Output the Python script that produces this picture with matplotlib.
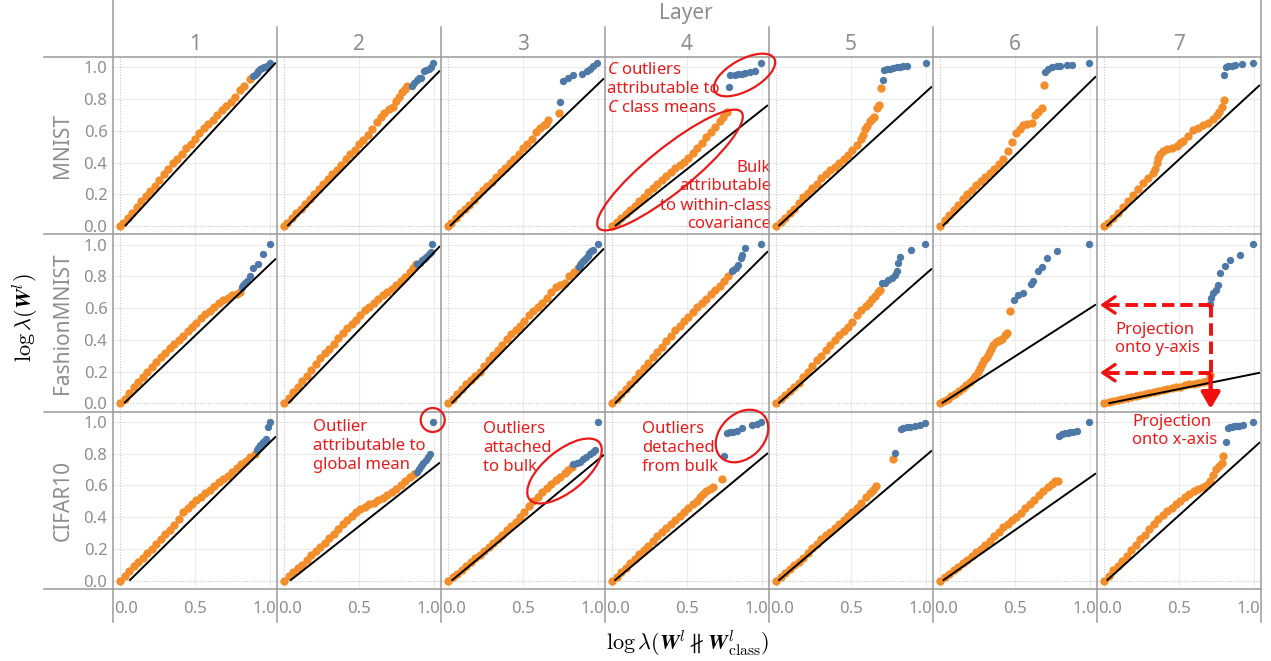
import matplotlib.pyplot as plt
from matplotlib.lines import Line2D
from matplotlib.patches import Ellipse, Circle, FancyArrowPatch
from matplotlib.transforms import Affine2D

plt.rcParams['font.family'] = ['Noto Sans', 'DejaVu Sans']
# sans italic for the inline "C"; the axis titles switch to Computer Modern
plt.rcParams['mathtext.fontset'] = 'custom'
plt.rcParams['mathtext.it'] = 'Noto Sans:italic'
plt.rcParams['mathtext.rm'] = 'Noto Sans'

datasets = ['MNIST', 'FashionMNIST', 'CIFAR10']
layers = ['1', '2', '3', '4', '5', '6', '7']

# bulk eigenvalues (orange), one list per layer
mnist_bulk_x = [
    [0, .02, .05, .08, .11, .14, .17, .20, .23, .26, .29, .32, .35, .38, .41, .44, .47, .50, .53, .56, .59, .62, .65, .68, .71, .74, .77, .80, .83, .867],
    [0, .02, .05, .08, .11, .14, .17, .20, .23, .26, .29, .32, .35, .38, .41, .44, .47, .50, .53, .56, .59, .62, .65, .67, .70, .73, .745, .765, .79, .805, .822],
    [0, .02, .05, .08, .11, .14, .17, .20, .23, .26, .29, .32, .35, .38, .41, .44, .47, .50, .53, .56, .59, .615, .64, .655, .67, .742],
    [0, .03, .06, .09, .12, .15, .18, .21, .24, .27, .30, .33, .36, .39, .42, .45, .48, .51, .54, .57, .60, .63, .66, .69, .72, .74, .764],
    [0, .03, .06, .09, .12, .15, .18, .21, .24, .27, .30, .33, .36, .39, .42, .45, .48, .51, .54, .565, .58, .595, .61, .625, .64, .655, .672, .685, .70],
    [0, .03, .06, .09, .12, .15, .18, .21, .24, .27, .30, .33, .36, .39, .42, .45, .48, .51, .533, .556, .578, .611, .633, .656, .678, .693],
    [0, .029, .062, .096, .129, .162, .196, .229, .262, .296, .329, .34, .351, .362, .373, .396, .418, .451, .484, .507, .529, .562, .596, .629, .662, .696, .729, .751, .769, .784, .80],
]
mnist_bulk_y = [
    [0, .02, .05, .085, .12, .155, .19, .22, .255, .29, .325, .36, .395, .425, .455, .49, .52, .55, .585, .615, .645, .67, .70, .73, .755, .78, .815, .855, .885, .925],
    [0, .02, .05, .08, .11, .14, .17, .20, .235, .265, .295, .33, .355, .385, .42, .455, .48, .515, .545, .575, .61, .655, .69, .715, .735, .75, .785, .815, .845, .865, .885],
    [0, .02, .05, .08, .105, .135, .165, .195, .225, .255, .28, .31, .34, .365, .395, .425, .455, .49, .52, .55, .59, .615, .635, .645, .665, .715],
    [0, .025, .05, .075, .10, .125, .155, .185, .215, .24, .265, .29, .315, .34, .365, .385, .405, .43, .46, .49, .525, .56, .595, .625, .66, .685, .72],
    [0, .025, .05, .08, .11, .145, .18, .21, .24, .265, .30, .325, .35, .375, .395, .42, .45, .48, .51, .55, .575, .61, .63, .66, .675, .69, .745, .765, .872],
    [0, .035, .07, .10, .135, .17, .20, .23, .26, .285, .31, .335, .36, .39, .425, .475, .53, .585, .613, .638, .645, .651, .702, .719, .745, .889],
    [0, .021, .049, .081, .123, .155, .198, .234, .272, .304, .336, .357, .40, .428, .453, .474, .485, .489, .506, .523, .538, .570, .602, .617, .634, .651, .677, .698, .719, .751, .794],
]
fashion_bulk_x = [
    [0, .03, .06, .09, .12, .15, .18, .21, .24, .27, .30, .33, .36, .39, .42, .45, .48, .51, .54, .57, .60, .63, .66, .69, .72, .75, .78, .80],
    [0, .03, .06, .09, .12, .15, .18, .21, .24, .27, .30, .33, .36, .39, .42, .45, .48, .51, .54, .57, .60, .63, .66, .69, .72, .75, .78, .81, .84, .86, .88],
    [0, .03, .06, .09, .12, .15, .18, .21, .24, .27, .30, .33, .36, .39, .42, .45, .48, .51, .54, .57, .60, .63, .66, .69, .72, .75, .78, .81, .84, .87],
    [0, .03, .06, .09, .12, .15, .18, .21, .24, .27, .30, .33, .36, .39, .42, .45, .48, .51, .54, .57, .60, .63, .66, .69, .72, .75, .776],
    [0, .03, .06, .09, .12, .15, .18, .21, .24, .27, .30, .33, .36, .39, .42, .45, .48, .51, .54, .57, .60, .62, .64, .66, .68, .693],
    [0, .025, .05, .075, .10, .125, .15, .175, .20, .22, .235, .25, .265, .28, .295, .31, .325, .34, .355, .37, .385, .40, .415, .435, .445, .467],
    [0, .03, .06, .09, .12, .15, .18, .21, .24, .27, .30, .33, .36, .39, .42, .45, .48, .51, .54, .57, .60, .63, .66, .69, .705],
]
fashion_bulk_y = [
    [0, .03, .065, .10, .135, .165, .20, .23, .26, .29, .32, .35, .375, .40, .425, .455, .48, .505, .535, .56, .58, .605, .63, .65, .665, .68, .69, .70],
    [0, .035, .07, .105, .14, .175, .21, .245, .285, .315, .345, .375, .41, .445, .475, .50, .525, .555, .585, .61, .635, .66, .685, .70, .72, .745, .77, .795, .825, .85, .875],
    [0, .03, .06, .09, .12, .145, .175, .20, .235, .27, .305, .335, .37, .405, .435, .465, .49, .52, .555, .58, .605, .635, .665, .70, .735, .745, .76, .80, .825, .85],
    [0, .03, .06, .09, .12, .155, .19, .225, .255, .29, .325, .355, .39, .425, .46, .49, .52, .545, .575, .605, .63, .66, .69, .715, .74, .77, .80],
    [0, .025, .05, .08, .105, .13, .165, .20, .235, .27, .30, .335, .37, .40, .43, .455, .48, .515, .555, .585, .615, .63, .655, .675, .70, .717],
    [0, .015, .03, .045, .06, .075, .095, .115, .135, .155, .175, .195, .22, .245, .27, .295, .315, .34, .365, .385, .395, .40, .405, .43, .445, .581],
    [.002, .01, .016, .022, .027, .033, .039, .045, .052, .058, .064, .07, .076, .082, .088, .094, .10, .106, .113, .119, .125, .131, .137, .143, .178],
]
cifar_bulk_x = [
    [0, .03, .06, .09, .12, .15, .18, .21, .24, .27, .30, .33, .36, .39, .42, .45, .48, .51, .54, .57, .60, .63, .66, .69, .72, .75, .78, .81, .84, .87, .90],
    [0, .03, .06, .09, .12, .15, .18, .21, .24, .27, .30, .33, .36, .39, .42, .45, .48, .51, .54, .57, .60, .63, .66, .69, .72, .75, .78, .81, .84, .87],
    [0, .03, .06, .09, .12, .15, .18, .21, .24, .27, .30, .33, .36, .39, .42, .45, .48, .51, .54, .57, .60, .63, .66, .69, .72, .75, .78, .80, .824],
    [0, .03, .06, .09, .12, .15, .18, .21, .24, .27, .30, .33, .36, .39, .42, .45, .48, .51, .54, .565, .59, .61, .63, .655, .676, .736],
    [0, .03, .06, .09, .12, .15, .18, .21, .24, .27, .30, .33, .36, .39, .42, .45, .48, .51, .54, .57, .60, .625, .645, .669, .78],
    [0, .03, .06, .09, .12, .15, .18, .21, .24, .27, .30, .33, .36, .39, .42, .45, .48, .51, .54, .57, .60, .63, .66, .69, .72, .745, .765, .785],
    [0, .03, .06, .09, .12, .15, .18, .21, .24, .27, .30, .33, .36, .39, .42, .45, .48, .51, .54, .57, .60, .63, .66, .69, .71, .73, .75, .77, .785, .796],
]
cifar_bulk_y = [
    [0, .03, .06, .09, .115, .145, .175, .20, .23, .26, .295, .32, .35, .39, .435, .455, .48, .505, .53, .55, .57, .595, .62, .64, .66, .685, .71, .735, .755, .78, .80],
    [0, .03, .055, .08, .10, .13, .16, .185, .21, .24, .27, .295, .325, .355, .385, .41, .43, .45, .465, .48, .49, .505, .52, .54, .56, .58, .60, .625, .65, .675],
    [0, .025, .045, .07, .09, .115, .14, .16, .185, .21, .235, .26, .29, .32, .345, .37, .40, .435, .47, .50, .53, .56, .585, .61, .635, .655, .68, .70, .718],
    [0, .025, .055, .08, .11, .135, .165, .195, .22, .25, .28, .305, .33, .355, .385, .41, .435, .455, .48, .50, .525, .545, .565, .575, .59, .641],
    [0, .025, .05, .075, .10, .12, .145, .175, .205, .23, .26, .285, .305, .33, .355, .38, .405, .43, .46, .49, .53, .555, .57, .598, .765],
    [0, .02, .04, .065, .085, .11, .13, .155, .18, .20, .225, .25, .28, .305, .335, .36, .38, .40, .425, .455, .48, .51, .54, .565, .59, .61, .625, .63],
    [0, .03, .065, .095, .125, .155, .19, .225, .26, .29, .325, .355, .39, .415, .44, .46, .48, .50, .525, .545, .565, .58, .59, .60, .625, .665, .705, .72, .74, .784],
]

# outlier eigenvalues (blue)
mnist_out_x = [
    [.889, .90, .911, .922, .933, .947, .96, .971, .982, 1.0],
    [.855, .87, .885, .90, .915, .935, .95, .965, .98, .995],
    [.747, .769, .802, .836, .891, .924, .947, .969, .991],
    [.78, .787, .82, .842, .864, .887, .92, .953, .993],
    [.711, .72, .738, .76, .782, .804, .827, .849, .876, .998],
    [.70, .722, .744, .778, .80, .844, .878, .993],
    [.802, .813, .829, .851, .873, .918, .996],
]
mnist_out_y = [
    [.943, .952, .964, .976, .989, .995, 1.0, 1.005, 1.01, 1.028],
    [.885, .90, .92, .93, .935, .975, .985, .99, 1.0, 1.025],
    [.779, .911, .932, .949, .957, .974, .991, 1.006, 1.028],
    [.879, .949, .953, .955, .957, .964, .97, .979, 1.028],
    [.921, .983, .989, .991, .995, 1.0, 1.004, 1.006, 1.006, 1.028],
    [.97, .991, 1.0, 1.006, 1.01, 1.017, 1.017, 1.026],
    [.949, 1.002, 1.006, 1.011, 1.015, 1.021, 1.026],
]
fashion_out_x = [
    [.811, .822, .833, .844, .867, .889, .922, .956, 1.0],
    [.89, .905, .92, .935, .95, .965, .978, .99],
    [.875, .88, .89, .90, .91, .92, .932, .942, .955, .965, .998],
    [.798, .81, .825, .84, .857, .868, .89, .993],
    [.704, .727, .749, .771, .793, .804, .816, .827, .90, .993],
    [.493, .522, .551, .607, .622, .651, .682, .711, .778, .991],
    [.707, .711, .729, .747, .762, .773, .807, .84, .907, .996],
]
fashion_out_y = [
    [.73, .748, .76, .769, .80, .853, .881, .941, 1.004],
    [.875, .885, .90, .91, .925, .94, .955, 1.005],
    [.86, .874, .885, .895, .905, .916, .93, .948, .96, .969, 1.004],
    [.832, .838, .853, .874, .916, .937, .979, 1.004],
    [.759, .759, .774, .79, .811, .832, .885, .92, .969, 1.004],
    [.65, .681, .696, .753, .77, .836, .857, .916, .958, 1.004],
    [.623, .665, .696, .717, .748, .822, .868, .906, .933, 1.004],
]
cifar_out_x = [
    [.911, .922, .933, .945, .956, .965, .971, .984, 1.0],
    [.884, .90, .915, .93, .945, .96, .973, .996],
    [.836, .86, .88, .90, .92, .945, .965, .98, .998],
    [.747, .764, .787, .809, .831, .864, .931, .964, .993],
    [.793, .831, .849, .871, .893, .927, .96, .993],
    [.793, .811, .833, .853, .867, .889, .911, .991],
    [.813, .824, .84, .851, .865, .884, .90, .924, .996],
]
cifar_out_y = [
    [.821, .835, .852, .862, .872, .882, .893, .965, 1.0],
    [.687, .705, .72, .74, .76, .78, .80, 1.0],
    [.732, .74, .75, .765, .78, .80, .81, .823, 1.0],
    [.784, .928, .934, .938, .944, .959, .979, .986, 1.0],
    [.804, .955, .961, .965, .971, .975, .981, .996],
    [.913, .924, .93, .932, .934, .937, .94, 1.0],
    [.872, .959, .965, .971, .973, .975, .977, .981, 1.0],
]

# reference line: starts at (x0, 0), reaches y1 at x = 1.04
mnist_ref_x0 = [.033, .022, .013, .02, .016, .018, .018]
mnist_ref_y1 = [1.03, .979, .93, .762, .879, .943, .889]
fashion_ref_x0 = [.027, .029, .024, .02, .016, .011, .029]
fashion_ref_y1 = [.912, .99, .975, .958, .849, .623, .193]
cifar_ref_x0 = [.062, .04, .024, .016, .016, .018, .018]
cifar_ref_y1 = [.909, .744, .793, .804, .82, .676, .872]

bulk_x = [mnist_bulk_x, fashion_bulk_x, cifar_bulk_x]
bulk_y = [mnist_bulk_y, fashion_bulk_y, cifar_bulk_y]
out_x = [mnist_out_x, fashion_out_x, cifar_out_x]
out_y = [mnist_out_y, fashion_out_y, cifar_out_y]
ref_x0 = [mnist_ref_x0, fashion_ref_x0, cifar_ref_x0]
ref_y1 = [mnist_ref_y1, fashion_ref_y1, cifar_ref_y1]

ORANGE = '#f28e2b'
BLUE = '#4e79a7'
RED = '#ea1a1a'
ARROW = '#f01010'
GRID = '#ebebeb'
SEP = '#9a9a9a'
TXT = '#8e8e8e'

W, H = 1271, 661
fig = plt.figure(figsize=(W / 100, H / 100), dpi=100)

LEFT, TOP = 113, 57
COL_W, ROW_H = 164, 177.3


def fx(px):
    return px / W


def fy(py):
    return 1 - py / H


px_trans = Affine2D().scale(1 / W, -1 / H).translate(0, 1) + fig.transFigure

axes = []
for r in range(3):
    row = []
    for c in range(7):
        x0 = LEFT + c * COL_W
        y0 = TOP + r * ROW_H
        ax = fig.add_axes([fx(x0), fy(y0 + ROW_H), COL_W / W, ROW_H / H])
        ax.set_xlim(-0.047, 1.047)
        ax.set_ylim(-0.052, 1.065)
        for s in ax.spines.values():
            s.set_visible(False)
        for gy in [0.2, 0.4, 0.6, 0.8, 1.0]:
            ax.axhline(gy, color=GRID, lw=0.8, zorder=0)
        for gx in [0.5, 1.0]:
            ax.axvline(gx, color=GRID, lw=0.8, zorder=0)
        ax.axhline(0, color='#c4c4c4', lw=0.8, ls=(0, (1, 1.5)), zorder=0)
        ax.axvline(0, color='#c4c4c4', lw=0.8, ls=(0, (1, 1.5)), zorder=0)

        ax.plot(bulk_x[r][c], bulk_y[r][c], 'o', color=ORANGE, ms=6, mew=0, zorder=2)
        ax.plot(out_x[r][c], out_y[r][c], 'o', color=BLUE, ms=5.3, mew=0, zorder=2)
        ax.plot([ref_x0[r][c], 1.04], [0, ref_y1[r][c]], color='black', lw=1.4,
                zorder=3, solid_capstyle='butt')

        ax.tick_params(length=0, labelsize=12, labelcolor=TXT)
        if c == 0:
            ax.set_yticks([0, 0.2, 0.4, 0.6, 0.8, 1.0])
            ax.set_yticklabels(['0.0', '0.2', '0.4', '0.6', '0.8', '1.0'])
            ax.tick_params(axis='y', pad=4)
        else:
            ax.set_yticks([])
        if r == 2:
            ax.set_xticks([0.04, 0.5, 0.96])
            ax.set_xticklabels(['0.0', '0.5', '1.0'])
            ax.tick_params(axis='x', pad=9)
        else:
            ax.set_xticks([])
        row.append(ax)
    axes.append(row)


def sep(x0, y0, x1, y1):
    fig.add_artist(Line2D([fx(x0), fx(x1)], [fy(y0), fy(y1)], transform=fig.transFigure,
                          color=SEP, lw=1.1, zorder=5))


RIGHT = LEFT + 7 * COL_W
sep(LEFT, 0, LEFT, 622)
sep(RIGHT, 0, RIGHT, 622)
for c in range(1, 7):
    sep(LEFT + c * COL_W, 27, LEFT + c * COL_W, 622)
for r in range(4):
    sep(44, TOP + r * ROW_H, RIGHT, TOP + r * ROW_H)

# headers
fig.text(fx(686), fy(14), 'Layer', ha='center', va='center', fontsize=15, color=TXT)
for c, name in enumerate(layers):
    fig.text(fx(LEFT + c * COL_W + COL_W / 2), fy(44), name, ha='center', va='center',
             fontsize=15, color=TXT)
for r, name in enumerate(datasets):
    fig.text(fx(63), fy(TOP + r * ROW_H + ROW_H / 2), name, ha='center', va='center',
             rotation=90, fontsize=15, color=TXT)

fig.text(fx(25), fy(318), r'$\log\lambda(\mathbfit{W}^l)$', ha='center', va='center',
         rotation=90, fontsize=16, math_fontfamily='cm')
fig.text(fx(688), fy(643), r'$\log\lambda(\mathbfit{W}^l \nparallel \mathbfit{W}^l_{\mathrm{class}})$',
         ha='center', va='center', fontsize=16, math_fontfamily='cm')

# annotations
note = dict(fontsize=12, color=RED, va='center', linespacing=1.25)
fig.text(fx(607), fy(89), '$C$ outliers\nattributable to\n$C$ class means', ha='left', **note)
fig.text(fx(771), fy(196), 'Bulk\nattributable\nto within-class\ncovariance', ha='right',
         multialignment='right', **note)
fig.text(fx(313), fy(446), 'Outlier\nattributable to\nglobal mean', ha='left', **note)
fig.text(fx(483), fy(448), 'Outliers\nattached\nto bulk', ha='left', **note)
fig.text(fx(642), fy(448), 'Outliers\ndetached\nfrom bulk', ha='left', **note)
fig.text(fx(1115), fy(339), 'Projection\nonto y-axis', ha='left', **note)
fig.text(fx(1132), fy(431), 'Projection\nonto x-axis', ha='left', **note)

ring = dict(fill=False, edgecolor=RED, lw=1.6, transform=px_trans, zorder=6)
for cx, cy, w, h, ang in [(744.5, 75, 68, 31, -29), (670, 170, 184, 44, -39),
                          (564.5, 471, 90, 41, -39), (742, 436, 60, 44, -45)]:
    fig.add_artist(Ellipse((cx, cy), w, h, angle=ang, **ring))
fig.add_artist(Circle((432.7, 420), 12, **ring))

# projection guides in the FashionMNIST / layer 7 panel
ax = axes[1][6]
px_, ytop, ylow = 0.711, 0.62, 0.193
dash = dict(color=ARROW, lw=2.8, ls=(0, (3.2, 1.5)), clip_on=False, zorder=7)
ax.plot([px_, px_], [ytop, ylow], **dash)
ax.plot([px_, 0.03], [ytop, ytop], **dash)
ax.plot([px_, 0.03], [ylow, ylow], **dash)
for yy in [ytop, ylow]:
    ax.add_patch(FancyArrowPatch((0.05, yy), (-0.045, yy),
                                 arrowstyle='->,head_length=0.62,head_width=0.42',
                                 mutation_scale=14, color=ARROW, lw=2.4, clip_on=False, zorder=7))
ax.add_patch(FancyArrowPatch((px_, ylow), (px_, -0.052),
                             arrowstyle='-|>,head_length=0.68,head_width=0.4',
                             mutation_scale=14, color=ARROW, lw=3.2, clip_on=False, zorder=7))

fig.savefig('out.png', dpi=100)
